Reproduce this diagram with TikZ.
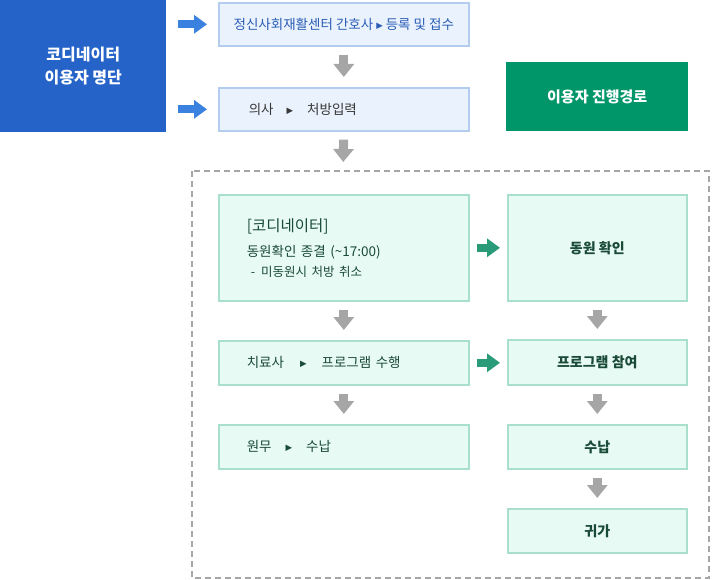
\documentclass[tikz,border=0pt]{standalone}
\usepackage{fontspec}
\setmainfont{Noto Sans CJK KR}
\newfontfamily\symfont{DejaVu Sans}
\usepackage{xcolor}
\usetikzlibrary{arrows.meta}

\definecolor{listblue}{HTML}{2563C8}
\definecolor{arrblue}{HTML}{3B82E0}
\definecolor{lightblue}{HTML}{EAF2FD}
\definecolor{edgeblue}{HTML}{B3CCEF}
\definecolor{textblue}{HTML}{2A5DB5}
\definecolor{pathgreen}{HTML}{00966A}
\definecolor{arrgreen}{HTML}{2A9B78}
\definecolor{lightgreen}{HTML}{E8FAF4}
\definecolor{edgegreen}{HTML}{A8E0CC}
\definecolor{textgreen}{HTML}{1A4A38}
\definecolor{arrgray}{HTML}{A6A6A6}

\newcommand{\tri}{{\symfont\fontsize{8.5}{8.5}\selectfont\raisebox{1pt}{▶}}}

\begin{document}
\begin{tikzpicture}[x=1pt,y=-1pt,
  every node/.style={font=\fontsize{13.5}{16}\selectfont, inner sep=0pt, anchor=north west},
  headbox/.style={fill=#1, text=white, font=\bfseries\fontsize{16}{23}\selectfont, align=center},
  bluestep/.style={draw=edgeblue, line width=1.6pt, fill=lightblue, minimum width=250pt, minimum height=43pt},
  greenstep/.style={draw=edgegreen, line width=1.6pt, fill=lightgreen, text=textgreen},
  wide/.style={greenstep, minimum width=250pt, text width=194pt, inner xsep=28pt, align=left},
  narrow/.style={greenstep, minimum width=179pt, font=\bfseries\fontsize{14}{16}\selectfont},
  downarr/.style={draw=arrgray, line width=9pt, -{Triangle[length=13pt,width=20pt]}, shorten <=8pt, shorten >=10pt},
  sidearr/.style={draw=#1, line width=8pt, -{Triangle[length=13pt,width=18pt]}}
]
\useasboundingbox (0,0) rectangle (712,580);

% ---- upper part: list and first steps ----
\node[headbox=listblue, minimum width=166pt, minimum height=132pt] (list) at (0,0) {코디네이터\\이용자 명단};
\node[bluestep, text=textblue] (reg) at (218,2) {정신사회재활센터 간호사\hspace{3pt}\tri\hspace{3pt}등록 및 접수};
\node[bluestep, text=black!78, text width=190pt, inner xsep=30pt, align=left] (rx) at (218,87)
  {의사\hspace{13pt}\tri\hspace{14pt}처방입력};
\node[headbox=pathgreen, font=\bfseries\fontsize{15}{18}\selectfont, minimum width=182pt, minimum height=69pt] (path) at (506,62) {이용자 진행경로};

\draw[sidearr=arrblue, shorten <=12pt, shorten >=11pt] (list.east |- reg.west) -- (reg.west);
\draw[sidearr=arrblue, shorten <=12pt, shorten >=11pt] (list.east |- rx.west) -- (rx.west);
\draw[downarr] (reg.south) -- (rx.north);

% ---- dashed area ----
\draw[arrgray, line width=1.5pt, dash pattern=on 6pt off 4pt] (192,171) rectangle (709,578);
\coordinate (area) at (343,171);
\draw[downarr, shorten >=9pt] (rx.south) -- (area);

% ---- left column ----
\node[wide, minimum height=106pt] (coord) at (218,194)
  {{\fontsize{15.5}{18}\selectfont[코디네이터]}\\[9pt]동원확인 종결 (\textasciitilde17:00)\\[4pt]{\fontsize{12.5}{15}\selectfont\hspace{4pt}-\hspace{6pt}미동원시 처방 취소}};
\node[wide, minimum height=44pt] (ther) at (218,340)
  {치료사\hspace{16pt}\tri\hspace{15pt}프로그램 수행};
\node[wide, minimum height=44pt] (cash) at (218,424)
  {원무\hspace{14pt}\tri\hspace{14pt}수납};

% ---- right column ----
\node[narrow, minimum height=106pt] (check) at (507,194) {동원 확인};
\node[narrow, minimum height=45pt] (join) at (507,339) {프로그램 참여};
\node[narrow, minimum height=44pt] (pay) at (507,424) {수납};
\node[narrow, minimum height=44pt] (home) at (507,508) {귀가};

\draw[downarr] (coord.south) -- (ther.north);
\draw[downarr] (ther.south) -- (cash.north);
\draw[downarr] (check.south) -- (join.north);
\draw[downarr] (join.south) -- (pay.north);
\draw[downarr] (pay.south) -- (home.north);

\draw[sidearr=arrgreen, shorten <=7pt, shorten >=7pt] (coord.east) -- (check.west);
\draw[sidearr=arrgreen, shorten <=7pt, shorten >=7pt] (ther.east) -- (ther.east -| join.west);
\end{tikzpicture}
\end{document}
